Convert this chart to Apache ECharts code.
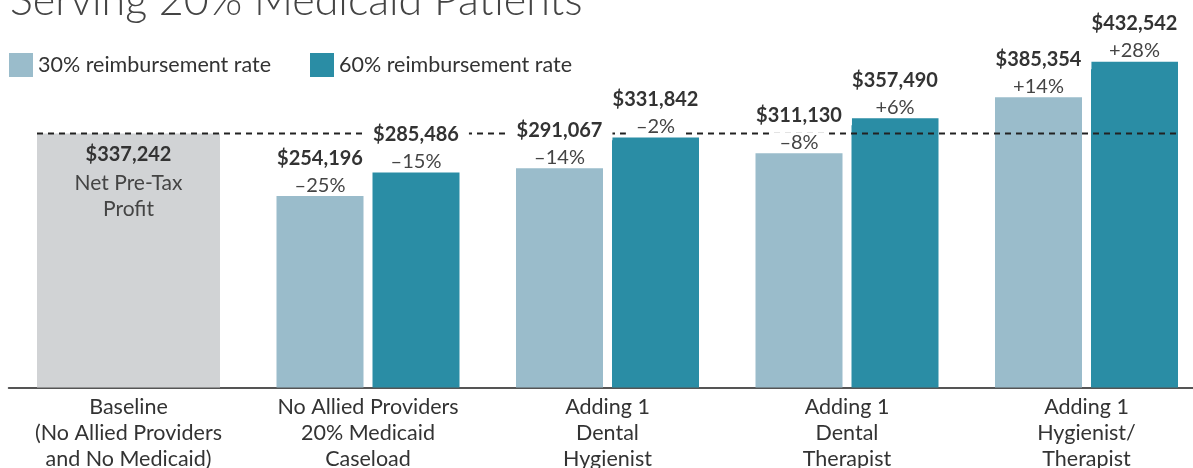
<!DOCTYPE html>
<html>
<head>
<meta charset="utf-8">
<script src="https://cdn.jsdelivr.net/npm/echarts@6/dist/echarts.min.js"></script>
<style>
  html, body { margin: 0; padding: 0; background: #fff; }
  #chart { width: 1193px; height: 468px; }
</style>
</head>
<body>
<div id="chart"></div>
<script>
// data
const categories = [
  "Baseline\n(No Allied Providers\nand No Medicaid)",
  "No Allied Providers\n20% Medicaid\nCaseload",
  "Adding 1\nDental\nHygienist",
  "Adding 1\nDental\nTherapist",
  "Adding 1\nHygienist/\nTherapist"
];
const baseline = [337242, null, null, null, null];
const rate30 = [null, 254196, 291067, 311130, 385354];
const rate60 = [null, 285486, 331842, 357490, 432542];
const change30 = ["", "–25%", "–14%", "–8%", "+14%"];
const change60 = ["", "–15%", "–2%", "+6%", "+28%"];
const baselineNote = "Net Pre-Tax\nProfit";
const seriesNames = ["30% reimbursement rate", "60% reimbursement rate"];

const FONT = "Lato";
const C_LIGHT = "#9abccb";
const C_DARK = "#2a8da5";
const C_GREY = "#d1d3d5";

const W = 1193;
const gridLeft = 8.75, gridRight = -13.25;
const barW = 87, pairGap = 9, baseW = 183;
const band = (W - gridLeft - gridRight) / categories.length;
const half = baseW / band / 2;
const baseValue = baseline[0];

const money = v => "$" + v.toLocaleString("en-US");

function pairLabel(changes) {
  return {
    show: true,
    position: "top",
    distance: 0,
    formatter: p => "{v|" + money(p.value) + "}\n{p|" + changes[p.dataIndex] + "}",
    rich: {
      v: { fontFamily: FONT, fontSize: 20, fontWeight: "bold", color: "#333",
           lineHeight: 32, backgroundColor: "#fff", padding: [0, 10] },
      p: { fontFamily: FONT, fontSize: 20, color: "#444",
           lineHeight: 22, backgroundColor: "#fff", padding: [0, 10] }
    }
  };
}

const chart = echarts.init(document.getElementById("chart"));
chart.setOption({
  animation: false,
  title: {
    text: "Serving 20% Medicaid Patients",
    left: 10, top: -20, padding: 0,
    textStyle: { fontFamily: FONT, fontSize: 43, fontWeight: 300, color: "#444" }
  },
  legend: {
    data: seriesNames,
    left: 9, top: 53, padding: 0,
    icon: "rect", itemWidth: 24, itemHeight: 24, itemGap: 39,
    textStyle: { fontFamily: FONT, fontSize: 21.5, color: "#333" }
  },
  grid: { left: gridLeft, right: gridRight, top: 11, bottom: 80.5, outerBoundsMode: "none" },
  xAxis: [
    {
      type: "category", data: categories,
      axisLine: { lineStyle: { color: "#555", width: 2 } },
      axisTick: { show: false },
      axisLabel: { interval: 0, margin: 7, fontFamily: FONT, fontSize: 21.5,
                   lineHeight: 26, color: "#333" }
    },
    { type: "category", data: categories, show: false },
    { type: "category", data: categories, show: false },
    { type: "value", min: -0.5, max: categories.length - 0.5, show: false }
  ],
  yAxis: { type: "value", min: 0, max: 500000, show: false },
  series: [
    {
      name: seriesNames[0], type: "bar", xAxisIndex: 0, z: 2,
      data: rate30, barWidth: barW, barGap: (pairGap / barW * 100) + "%",
      itemStyle: { color: C_LIGHT }
    },
    {
      name: seriesNames[1], type: "bar", xAxisIndex: 0, z: 2,
      data: rate60, barWidth: barW, barGap: (pairGap / barW * 100) + "%",
      itemStyle: { color: C_DARK }
    },
    {
      name: "Baseline", type: "bar", xAxisIndex: 1, z: 2,
      data: baseline, barWidth: baseW,
      itemStyle: { color: C_GREY },
      label: {
        show: true, position: "insideTop", distance: 5,
        formatter: p => "{v|" + money(p.value) + "}\n{n|" + baselineNote.split("\n").join("}\n{n|") + "}",
        rich: {
          v: { fontFamily: FONT, fontSize: 20, fontWeight: "bold", color: "#333", lineHeight: 32 },
          n: { fontFamily: FONT, fontSize: 21, color: "#444", lineHeight: 26 }
        }
      }
    },
    {
      name: "Baseline line", type: "line", xAxisIndex: 3, z: 3,
      data: [[-half, baseValue], [categories.length - 1 + half, baseValue]],
      symbol: "none", silent: true,
      lineStyle: { color: "#222", width: 2, type: [6, 5] }
    },
    {
      name: "labels30", type: "bar", xAxisIndex: 2, z: 4, silent: true,
      data: rate30, barWidth: barW, barGap: (pairGap / barW * 100) + "%",
      itemStyle: { color: "rgba(0,0,0,0)" },
      label: pairLabel(change30)
    },
    {
      name: "labels60", type: "bar", xAxisIndex: 2, z: 4, silent: true,
      data: rate60, barWidth: barW, barGap: (pairGap / barW * 100) + "%",
      itemStyle: { color: "rgba(0,0,0,0)" },
      label: pairLabel(change60)
    }
  ]
});
</script>
</body>
</html>
